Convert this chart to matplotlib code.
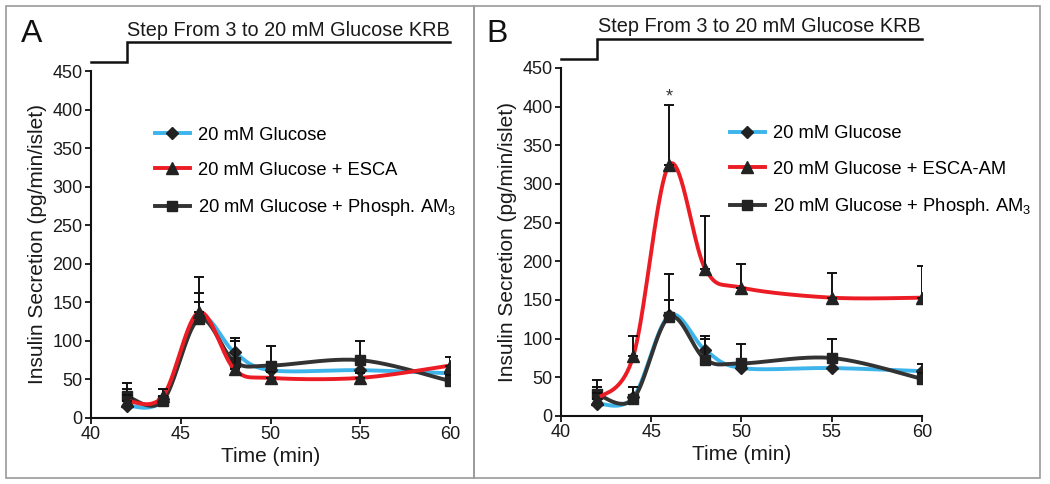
import numpy as np
import matplotlib.pyplot as plt
from matplotlib.lines import Line2D
from matplotlib.patches import Rectangle

plt.rcParams['font.family'] = ['Liberation Sans', 'DejaVu Sans']
plt.rcParams['mathtext.default'] = 'regular'

# ---- data ----
TIME = [42, 44, 46, 48, 50, 55, 60]

GLU = [16, 24, 130, 85, 62, 62, 58]
GLU_ERR = [22, 13, 20, 15, 10, 8, 9]

PHOS = [28, 22, 128, 73, 68, 75, 48]
PHOS_ERR = [18, 15, 55, 31, 25, 25, 8]

ESCA_A = [22, 28, 137, 63, 52, 52, 68]
ESCA_A_ERR = [8, 10, 25, 37, 8, 6, 11]

ESCA_B = [22, 77, 325, 190, 166, 153, 153]
ESCA_B_ERR = [8, 26, 77, 68, 31, 32, 41]

STEP_X = [40, 42, 42, 60]
STEP_Y = [462, 462, 487, 487]

BLUE = '#3db4ea'
RED = '#ec1c24'
DARK = '#333333'


def smooth(x, y, n=40):
    # Excel-style smoothed line (Catmull-Rom as cubic Bezier)
    p = np.column_stack([x, y]).astype(float)
    pts = []
    for i in range(len(p) - 1):
        p0 = p[max(i - 1, 0)]
        p1 = p[i]
        p2 = p[i + 1]
        p3 = p[min(i + 2, len(p) - 1)]
        c1 = p1 + (p2 - p0) / 6.0
        c2 = p2 - (p3 - p1) / 6.0
        t = np.linspace(0, 1, n)[:, None]
        seg = ((1 - t) ** 3 * p1 + 3 * (1 - t) ** 2 * t * c1
               + 3 * (1 - t) * t ** 2 * c2 + t ** 3 * p2)
        pts.append(seg if i == 0 else seg[1:])
    pts = np.vstack(pts)
    return pts[:, 0], pts[:, 1]


def series(ax, y, err, color, marker, ms, z):
    sx, sy = smooth(TIME, y)
    ax.plot(sx, sy, color=color, lw=2.8, zorder=z, solid_capstyle='round')
    ax.errorbar(TIME, y, yerr=[np.zeros(len(err)), err], fmt='none',
                ecolor='#111111', elinewidth=1.4, capsize=3.5, capthick=1.4,
                zorder=z + 0.5)
    ax.plot(TIME, y, ls='none', marker=marker, ms=ms, color='#222222',
            zorder=z + 0.6)


def panel(ax, esca, esca_err, esca_label):
    series(ax, GLU, GLU_ERR, BLUE, 'D', 6, 2)
    series(ax, PHOS, PHOS_ERR, DARK, 's', 6.5, 3)
    series(ax, esca, esca_err, RED, '^', 8.5, 4)

    ax.set_xlim(40, 60)
    ax.set_ylim(0, 450)
    ax.set_xticks([40, 45, 50, 55, 60])
    ax.set_yticks(range(0, 451, 50))
    for s in ['top', 'right']:
        ax.spines[s].set_visible(False)
    for s in ['left', 'bottom']:
        ax.spines[s].set_linewidth(1.5)
        ax.spines[s].set_color('#111111')
    ax.tick_params(labelsize=13, width=1.3, length=4, color='#111111',
                   labelcolor='#1a1a1a', pad=2)
    ax.set_xlabel('Time (min)', fontsize=15, color='#1a1a1a', labelpad=3)
    ax.set_ylabel('Insulin Secretion (pg/min/islet)', fontsize=15,
                  color='#1a1a1a', labelpad=4)

    # step indicator above the plot
    ax.plot(STEP_X, STEP_Y, color='#111111', lw=1.8, clip_on=False,
            solid_joinstyle='miter')
    ax.text(51, 496, 'Step From 3 to 20 mM Glucose KRB', ha='center',
            va='baseline', fontsize=14.3, color='#1a1a1a', clip_on=False)

    handles = [
        Line2D([], [], color=BLUE, lw=2.8, marker='D', ms=6,
               mfc='#222222', mec='#222222'),
        Line2D([], [], color=RED, lw=2.8, marker='^', ms=8.5,
               mfc='#222222', mec='#222222'),
        Line2D([], [], color=DARK, lw=2.8, marker='s', ms=6.5,
               mfc='#222222', mec='#222222'),
    ]
    labels = ['20 mM Glucose', esca_label, r'20 mM Glucose + Phosph. AM$_3$']
    return handles, labels


fig = plt.figure(figsize=(10.5, 4.84), dpi=100)

# outer frames
fig.patches.append(Rectangle((6 / 1050, 6 / 484), 468 / 1050, 472 / 484,
                             transform=fig.transFigure, fill=False,
                             ec='#9a9a9a', lw=1.2))
fig.patches.append(Rectangle((474 / 1050, 6 / 484), 566 / 1050, 472 / 484,
                             transform=fig.transFigure, fill=False,
                             ec='#9a9a9a', lw=1.2))

axA = fig.add_axes([91 / 1050, 66 / 484, 359 / 1050, 347 / 484])
axB = fig.add_axes([561 / 1050, 68 / 484, 361 / 1050, 348 / 484])

leg_kw = dict(loc='upper left', frameon=False, fontsize=13.2,
              handlelength=1.9, handletextpad=0.45, labelspacing=1.0,
              borderpad=0, borderaxespad=0)

h, l = panel(axA, ESCA_A, ESCA_A_ERR, '20 mM Glucose + ESCA')
axA.legend(h, l, bbox_to_anchor=(0.178, 0.84), **leg_kw)

h, l = panel(axB, ESCA_B, ESCA_B_ERR, '20 mM Glucose + ESCA-AM')
axB.legend(h, l, bbox_to_anchor=(0.468, 0.835), **leg_kw)
axB.text(46, 402, '*', ha='center', va='bottom', fontsize=13,
         color='#333333')

fig.text(32 / 1050, 1 - 34 / 484, 'A', fontsize=23, ha='center',
         va='center', color='#111111')
fig.text(497 / 1050, 1 - 34 / 484, 'B', fontsize=23, ha='center',
         va='center', color='#111111')

fig.savefig('out.png', dpi=100)
